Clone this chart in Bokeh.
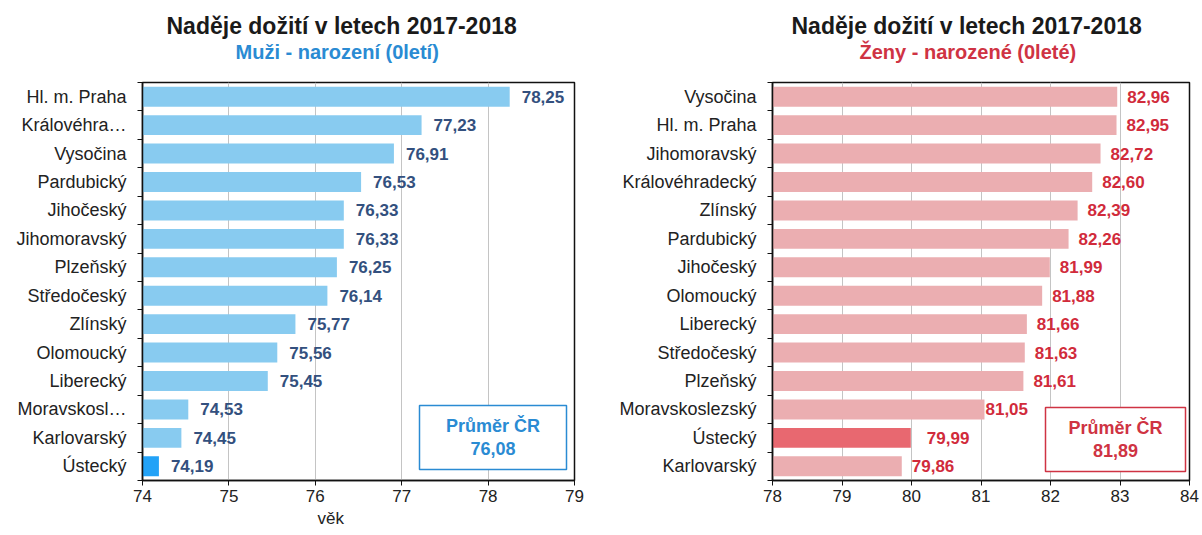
from bokeh.plotting import figure
from bokeh.layouts import row
from bokeh.models import ColumnDataSource, FixedTicker, Label, BoxAnnotation, Title
from bokeh.embed import file_html
from bokeh.resources import INLINE
from bokeh.core.properties import value

# ---------------- data ----------------
title_text = "Naděje dožití v letech 2017-2018"
men_subtitle = "Muži - narození (0letí)"
women_subtitle = "Ženy - narozené (0leté)"
avg_text = "Průměr ČR"
men_axis_label = "věk"

men_regions = ["Hl. m. Praha", "Královéhra…", "Vysočina", "Pardubický", "Jihočeský",
               "Jihomoravský", "Plzeňský", "Středočeský", "Zlínský", "Olomoucký",
               "Liberecký", "Moravskosl…", "Karlovarský", "Ústecký"]
men_values = [78.25, 77.23, 76.91, 76.53, 76.33, 76.33, 76.25, 76.14, 75.77, 75.56,
              75.45, 74.53, 74.45, 74.19]
men_avg = 76.08
men_ticks = [74, 75, 76, 77, 78, 79]

women_regions = ["Vysočina", "Hl. m. Praha", "Jihomoravský", "Královéhradecký", "Zlínský",
                 "Pardubický", "Jihočeský", "Olomoucký", "Liberecký", "Středočeský",
                 "Plzeňský", "Moravskoslezský", "Ústecký", "Karlovarský"]
women_values = [82.96, 82.95, 82.72, 82.60, 82.39, 82.26, 81.99, 81.88, 81.66, 81.63,
                81.61, 81.05, 79.99, 79.86]
women_avg = 81.89
women_ticks = [78, 79, 80, 81, 82, 83, 84]

highlight_region = "Ústecký"

FONT = "Liberation Sans"
FRAME_TOP = 82
FRAME_H = 398
FIG_H = 534


def fmt(v):
    return f"{v:.2f}".replace(".", ",")


def make_chart(regions, values, avg, ticks, subtitle, bar_color, hl_color, val_color,
               accent_color, fig_x, frame_left, frame_w, fig_w, title_left, sub_left,
               box_px, axis_label=None, axis_label_left=None, offsets=None):
    n = len(regions)
    x0, x1 = ticks[0], ticks[-1]
    ppu_x = frame_w / (x1 - x0)
    ppu_y = FRAME_H / n

    def dx(px):  # page px -> data x
        return x0 + (px - frame_left) / ppu_x

    def dy(py):  # page px -> data y
        return (n - 0.5) - (py - FRAME_TOP) / ppu_y

    pos = list(range(n - 1, -1, -1))
    colors = [hl_color if r == highlight_region else bar_color for r in regions]
    xoff = offsets if offsets is not None else [12] * n
    src = ColumnDataSource(dict(y=pos, v=values, color=colors,
                                label=[fmt(v) for v in values], xoff=xoff))

    b_left = frame_left - fig_x
    p = figure(frame_width=frame_w, frame_height=FRAME_H,
               x_range=(x0, x1), y_range=(-0.5, n - 0.5),
               output_backend="svg", toolbar_location=None,
               min_border_left=b_left,
               min_border_right=fig_w - frame_w - b_left,
               min_border_top=FRAME_TOP, min_border_bottom=FIG_H - FRAME_TOP - FRAME_H)
    p.background_fill_color = "white"
    p.border_fill_color = "white"
    p.outline_line_color = "#111111"
    p.outline_line_width = 1.5

    p.hbar(y="y", left=x0, right="v", height=0.7, fill_color="color",
           line_color=None, source=src)
    p.text(x="v", y="y", text="label", x_offset="xoff", text_align="left",
           text_baseline="middle", text_font=value(FONT), text_font_size="17px",
           text_font_style="bold", text_color=val_color, source=src)

    # axes
    p.xaxis.ticker = FixedTicker(ticks=ticks, minor_ticks=[])
    p.xaxis.major_tick_out = 5
    p.xaxis.major_tick_in = 0
    p.xaxis.major_tick_line_color = "#111111"
    p.xaxis.axis_line_color = "#111111"
    p.xaxis.axis_line_width = 1.5
    p.xaxis.major_label_text_font = FONT
    p.xaxis.major_label_text_font_size = "17px"
    p.xaxis.major_label_text_color = "#222222"
    p.xaxis.major_label_standoff = 4
    if axis_label:
        p.add_layout(Title(text=axis_label, align="left",
                           offset=axis_label_left - frame_left, standoff=4,
                           vertical_align="bottom", text_font=FONT,
                           text_font_size="17px", text_font_style="normal",
                           text_color="#222222"), "below")

    p.yaxis.ticker = FixedTicker(ticks=pos, minor_ticks=[i - 0.5 for i in range(n + 1)])
    p.yaxis.major_label_overrides = {pv: r for pv, r in zip(pos, regions)}
    p.yaxis.major_tick_out = 0
    p.yaxis.major_tick_in = 0
    p.yaxis.minor_tick_out = 5
    p.yaxis.minor_tick_in = 0
    p.yaxis.minor_tick_line_color = "#111111"
    p.yaxis.axis_line_color = "#111111"
    p.yaxis.axis_line_width = 1.5
    p.yaxis.major_label_text_font = FONT
    p.yaxis.major_label_text_font_size = "18px"
    p.yaxis.major_label_text_color = "#222222"
    p.yaxis.major_label_standoff = 11

    p.xgrid.grid_line_color = "#c4c4c4"
    p.ygrid.grid_line_color = None

    # titles: spacer panel next to the frame, then subtitle, then main title
    p.add_layout(Title(text=" ", align="left", standoff=17, text_font=FONT,
                       text_font_size="1px"), "above")
    p.add_layout(Title(text=subtitle, align="left", offset=sub_left - frame_left, standoff=0,
                       text_font=FONT, text_font_size="20px", text_font_style="bold",
                       text_color=accent_color), "above")
    p.add_layout(Title(text=title_text, align="left", offset=title_left - frame_left,
                       standoff=0, text_font=FONT, text_font_size="23px",
                       text_font_style="bold", text_color="#1a1a1a"), "above")

    # average box
    bl, br, bt, bb = box_px
    p.add_layout(BoxAnnotation(left=dx(bl), right=dx(br), top=dy(bt), bottom=dy(bb),
                               fill_color="white", fill_alpha=1.0,
                               line_color=accent_color, line_width=1.5, line_alpha=1.0))
    cx = dx((bl + br) / 2)
    p.add_layout(Label(x=cx, y=dy(bt + 20), text=avg_text, text_align="center",
                       text_baseline="middle", text_font=FONT, text_font_size="18px",
                       text_font_style="bold", text_color=accent_color))
    p.add_layout(Label(x=cx, y=dy(bt + 43), text=fmt(avg), text_align="center",
                       text_baseline="middle", text_font=FONT, text_font_size="18px",
                       text_font_style="bold", text_color=accent_color))
    return p


p1 = make_chart(men_regions, men_values, men_avg, men_ticks, men_subtitle,
                bar_color="#88CBF0", hl_color="#22A2F7", val_color="#33507E",
                accent_color="#2A8BD3", fig_x=0, frame_left=142, frame_w=432, fig_w=604,
                title_left=166, sub_left=235, box_px=(419, 566, 405, 469),
                axis_label=men_axis_label, axis_label_left=317)

w_offsets = [10 if r not in ("Moravskoslezský", "Ústecký") else (1 if r == "Moravskoslezský" else 16)
             for r in women_regions]
p2 = make_chart(women_regions, women_values, women_avg, women_ticks, women_subtitle,
                bar_color="#EBAEB1", hl_color="#E86870", val_color="#D12B3B",
                accent_color="#CF3343", fig_x=604, frame_left=772, frame_w=417, fig_w=597,
                title_left=791, sub_left=859, box_px=(1045, 1185, 407, 471),
                offsets=w_offsets)

layout = row(p1, p2)
open("out.html", "w").write(file_html(layout, INLINE))
